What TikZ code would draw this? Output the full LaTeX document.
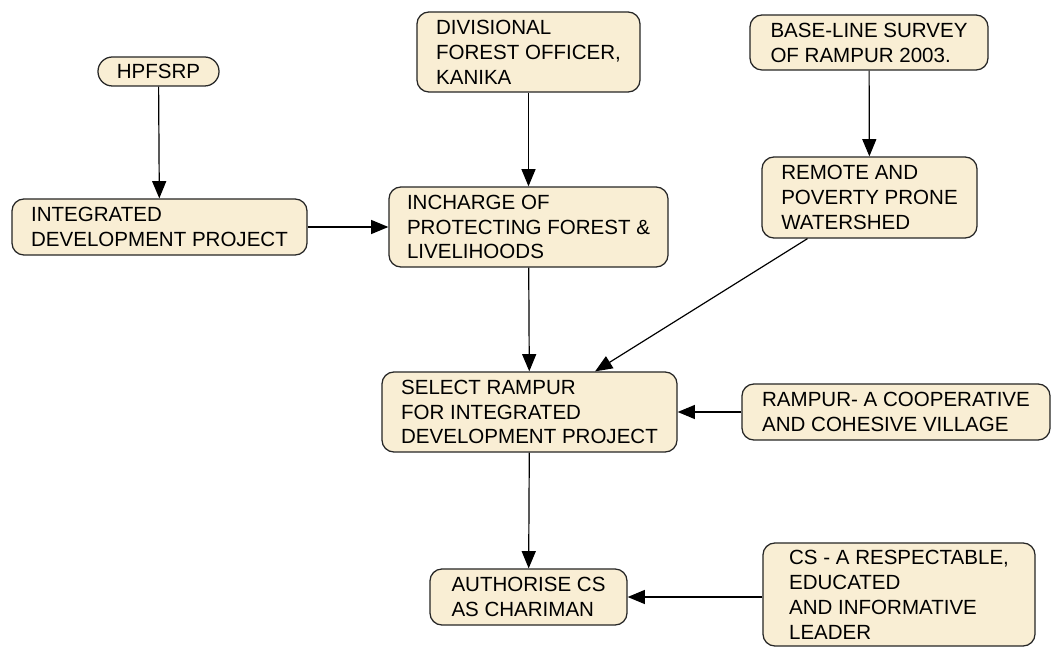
\documentclass[tikz,border=0pt]{standalone}
\usepackage{fontspec}
\setmainfont{Liberation Sans}
\usetikzlibrary{arrows.meta}
\usetikzlibrary{calc}

\definecolor{boxfill}{RGB}{249,238,212}

\begin{document}
\begin{tikzpicture}[x=0.025cm,y=-0.025cm,
        box/.style={draw=black!85,line width=0.9pt,fill=boxfill,rounded corners=0.3cm,
                    align=left,inner xsep=0.3cm,inner ysep=0pt,
                    font=\fontsize{14.6}{17.7}\selectfont},
        pill/.style={box,rounded corners=0.36cm,align=center},
        link/.style={line width=0.85pt,arrows = -{Triangle[length=0.43cm,width=0.35cm]}}]

            % \draw [help lines] (0,0) grid (1051,648);
            \useasboundingbox (0,0) rectangle (1051,648);

            \path   (158.5,71.5) node (hpfsrp)    [pill,minimum width=3.025cm,minimum height=0.725cm] {HPFSRP}
                    (159.5,227)  node (idp)       [box,minimum width=7.375cm,minimum height=1.4cm]   {INTEGRATED\\DEVELOPMENT PROJECT}
                    (528.5,52)   node (dfo)       [box,minimum width=5.575cm,minimum height=2.0cm]   {DIVISIONAL\\FOREST OFFICER,\\KANIKA}
                    (869,42.5)   node (base)      [box,minimum width=5.95cm,minimum height=1.375cm]  {BASE-LINE SURVEY\\OF RAMPUR 2003.}
                    (528.5,227)  node (incharge)  [box,minimum width=6.975cm,minimum height=2.0cm]   {INCHARGE OF\\PROTECTING FOREST \&\\LIVELIHOODS}
                    (869.5,197.5) node (remote)   [box,minimum width=5.375cm,minimum height=2.025cm] {REMOTE AND\\POVERTY PRONE\\WATERSHED}
                    (529.5,412)  node (select)    [box,minimum width=7.375cm,minimum height=2.0cm]   {SELECT RAMPUR\\FOR INTEGRATED\\DEVELOPMENT PROJECT}
                    (896,412)    node (rampur)    [box,minimum width=7.7cm,minimum height=1.4cm]     {RAMPUR- A COOPERATIVE\\AND COHESIVE VILLAGE}
                    (528.5,597)  node (authorise) [box,minimum width=4.925cm,minimum height=1.4cm]   {AUTHORISE CS\\AS CHARIMAN}
                    (899,594.5)  node (cs)        [box,minimum width=6.8cm,minimum height=2.575cm]   {CS - A RESPECTABLE,\\EDUCATED\\AND INFORMATIVE\\LEADER};

            \draw[link] (node cs: name =hpfsrp ) -- (node cs:name =idp);
            \draw[link] (node cs: name =dfo ) -- (node cs:name =incharge);
            \draw[link] (node cs: name =base ) -- (node cs:name =remote);
            \draw[link] (node cs: name =idp ) -- (node cs:name =incharge);
            \draw[link] (node cs: name =incharge ) -- (node cs:name =select);
            \draw[link] ([xshift=-1.55cm]remote.south) -- ([xshift=1.64cm]select.north);
            \draw[link] (node cs: name =rampur ) -- (node cs:name =select);
            \draw[link] (node cs: name =select ) -- (node cs:name =authorise);
            \draw[link] (cs.west |- authorise.east) -- (authorise.east);

\end{tikzpicture}
\end{document}
